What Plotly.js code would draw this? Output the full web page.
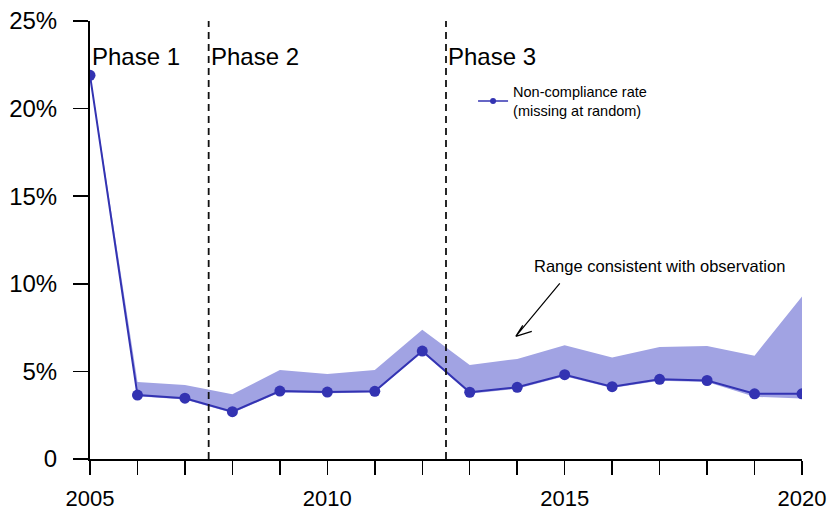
<!DOCTYPE html>
<html>
<head>
<meta charset="utf-8">
<script src="https://cdn.plot.ly/plotly-3.0.1.min.js"></script>
<style>html,body{margin:0;padding:0;background:#fff}#chart{width:833px;height:514px}</style>
</head>
<body>
<div id="chart"></div>
<script>
const years = [2005,2006,2007,2008,2009,2010,2011,2012,2013,2014,2015,2016,2017,2018,2019,2020];
const rate  = [21.9,3.65,3.47,2.70,3.88,3.82,3.86,6.16,3.81,4.09,4.81,4.13,4.55,4.48,3.72,3.72];
const upper = [22.0,4.40,4.22,3.69,5.08,4.85,5.08,7.38,5.37,5.71,6.49,5.80,6.39,6.45,5.90,9.27];
const lower = [21.8,3.58,3.40,2.63,3.80,3.75,3.79,6.08,3.73,4.01,4.72,4.05,4.47,4.40,3.55,3.45];
const yTickVals = [0,5,10,15,20,25];
const yTickText = ['0','5%','10%','15%','20%','25%'];
const xTickText = years.map(y => (y % 5 === 0 ? String(y) : ''));
const phaseBounds = [2007.5, 2012.5];
const phaseLabels = ['Phase 1','Phase 2','Phase 3'];
const phaseStarts = [2005, 2007.5, 2012.5];

const FONT = 'Liberation Sans, Arial, Helvetica, sans-serif';
const LINE = '#3333b2';
const BAND = '#a1a3e3';

const traces = [
  {x: years, y: lower, mode: 'lines', line: {width: 0, color: BAND}, showlegend: false, hoverinfo: 'skip'},
  {x: years, y: upper, mode: 'lines', fill: 'tonexty', fillcolor: BAND, line: {width: 0, color: BAND}, showlegend: false, hoverinfo: 'skip'},
  {x: years, y: rate, mode: 'lines+markers', line: {color: LINE, width: 2}, marker: {color: LINE, size: 11}, showlegend: false},
  {x: [null], y: [null], mode: 'lines+markers', line: {color: LINE, width: 1.5}, marker: {color: LINE, size: 6},
   name: 'Non-compliance rate<br>(missing at random)', showlegend: true}
];

const shapes = phaseBounds.map(b => ({
  type: 'line', xref: 'x', yref: 'paper', x0: b, x1: b, y0: 0, y1: 1,
  line: {color: '#111', width: 1.8, dash: '7px,5px'}
}));
shapes.push({
  type: 'path', xref: 'x', yref: 'y', xsizemode: 'pixel', ysizemode: 'pixel',
  xanchor: 2013.97, yanchor: 7.0,
  path: 'M 44 53 L 0 0 M 0 0 L 16 5 M 0 0 L 7 11',
  line: {color: '#000', width: 1.2}
});

const annotations = phaseLabels.map((t, i) => ({
  text: t, xref: 'x', yref: 'paper', x: phaseStarts[i], y: 0.92, xanchor: 'left', yanchor: 'middle',
  xshift: 0, showarrow: false, font: {family: FONT, size: 24, color: '#000'}
}));
annotations.push({
  text: 'Range consistent with observation', xref: 'x', yref: 'y', x: 2017.0, y: 11.0,
  xanchor: 'center', yanchor: 'middle', showarrow: false, font: {family: FONT, size: 16.5, color: '#000'}
});

const layout = {
  width: 833, height: 514,
  margin: {l: 90, r: 31, t: 21, b: 55},
  paper_bgcolor: '#fff', plot_bgcolor: '#fff',
  font: {family: FONT, color: '#000'},
  xaxis: {
    range: [2005, 2020], tickvals: years, ticktext: xTickText,
    showgrid: false, zeroline: false, showline: true, linecolor: '#000', linewidth: 2,
    ticks: 'outside', ticklen: 14, tickwidth: 1.5, tickcolor: '#000',
    tickfont: {family: FONT, size: 22}, ticklabelstandoff: 5
  },
  yaxis: {
    range: [0, 25], tickvals: yTickVals, ticktext: yTickText,
    showgrid: false, zeroline: false, showline: true, linecolor: '#000', linewidth: 2,
    ticks: 'outside', ticklen: 15, tickwidth: 1.5, tickcolor: '#000',
    tickfont: {family: FONT, size: 24}, ticklabelstandoff: 11
  },
  showlegend: true,
  legend: {x: 0.538, y: 0.875, xanchor: 'left', yanchor: 'top', bgcolor: 'rgba(0,0,0,0)',
           font: {family: FONT, size: 14.5, color: '#000'}},
  shapes: shapes,
  annotations: annotations
};

Plotly.newPlot('chart', traces, layout, {displayModeBar: false, staticPlot: true});
</script>
</body>
</html>
